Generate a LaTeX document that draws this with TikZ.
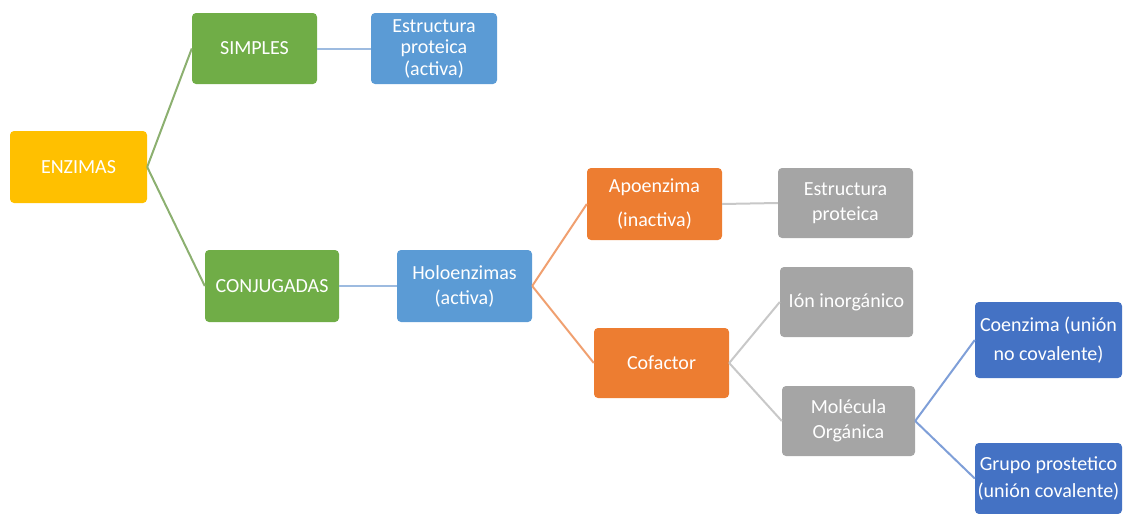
\documentclass[tikz,border=0pt]{standalone}
\usepackage{fontspec}
\setmainfont{Carlito}
\definecolor{cyel}{HTML}{FFC000}
\definecolor{cgrn}{HTML}{70AD47}
\definecolor{cblu}{HTML}{5B9BD5}
\definecolor{corg}{HTML}{ED7D31}
\definecolor{cgry}{HTML}{A5A5A5}
\definecolor{cdbl}{HTML}{4472C4}
\definecolor{lgrn}{HTML}{8CB070}
\definecolor{lblu}{HTML}{9DBBE0}
\definecolor{lorg}{HTML}{F0A070}
\definecolor{lgry}{HTML}{C8C8C8}
\definecolor{ldbl}{HTML}{7F9FD8}
\begin{document}
\begin{tikzpicture}[x=1pt,y=-1pt,
  box/.style={rounded corners=4pt, text=white, align=center, inner sep=0pt,
    font=\fontsize{20}{25}\selectfont},
  link/.style={line width=2pt}]
\useasboundingbox (0,0) rectangle (1128,514);
% boxes
\node[box, fill=cyel, minimum width=137pt, minimum height=72pt] (enz) at (78.5,167) {ENZIMAS};
\node[box, fill=cgrn, minimum width=125pt, minimum height=71pt] (sim) at (254.5,48.5) {SIMPLES};
\node[box, fill=cblu, minimum width=126pt, minimum height=71pt, font=\fontsize{20}{21.5}\selectfont] (ep1) at (434,48.5) {Estructura\\proteica\\(activa)};
\node[box, fill=cgrn, minimum width=134pt, minimum height=72pt] (con) at (272,286) {CONJUGADAS};
\node[box, fill=cblu, minimum width=135pt, minimum height=72pt] (hol) at (464.5,286) {Holoenzimas\\(activa)};
\node[box, fill=corg, minimum width=135pt, minimum height=72pt, font=\fontsize{20}{34}\selectfont] (apo) at (654.5,204) {Apoenzima\\(inactiva)};
\node[box, fill=cgry, minimum width=135pt, minimum height=70pt] (ep2) at (845.5,203) {Estructura\\proteica};
\node[box, fill=corg, minimum width=135pt, minimum height=70pt] (cof) at (661.5,363) {Cofactor};
\node[box, fill=cgry, minimum width=133pt, minimum height=70pt] (ion) at (846.5,302) {Ión inorgánico};
\node[box, fill=cgry, minimum width=133pt, minimum height=70pt] (mol) at (848.5,421) {Molécula\\Orgánica};
\node[box, fill=cdbl, minimum width=147pt, minimum height=76pt, font=\fontsize{20}{29}\selectfont] (coe) at (1048.5,340) {Coenzima (unión\\no covalente)};
\node[box, fill=cdbl, minimum width=147pt, minimum height=71pt, font=\fontsize{20}{27}\selectfont] (gru) at (1048.5,478.5) {Grupo prostetico\\(unión covalente)};
% connectors
\draw[link, lgrn] (enz.east) -- (sim.west);
\draw[link, lgrn] (enz.east) -- (con.west);
\draw[link, lblu] (sim.east) -- (ep1.west);
\draw[link, lblu] (con.east) -- (hol.west);
\draw[link, lorg] (hol.east) -- (apo.west);
\draw[link, lorg] (hol.east) -- (cof.west);
\draw[link, lgry] (apo.east) -- (ep2.west);
\draw[link, lgry] (cof.east) -- (ion.west);
\draw[link, lgry] (cof.east) -- (mol.west);
\draw[link, ldbl] (mol.east) -- (coe.west);
\draw[link, ldbl] (mol.east) -- (gru.west);
\end{tikzpicture}
\end{document}
